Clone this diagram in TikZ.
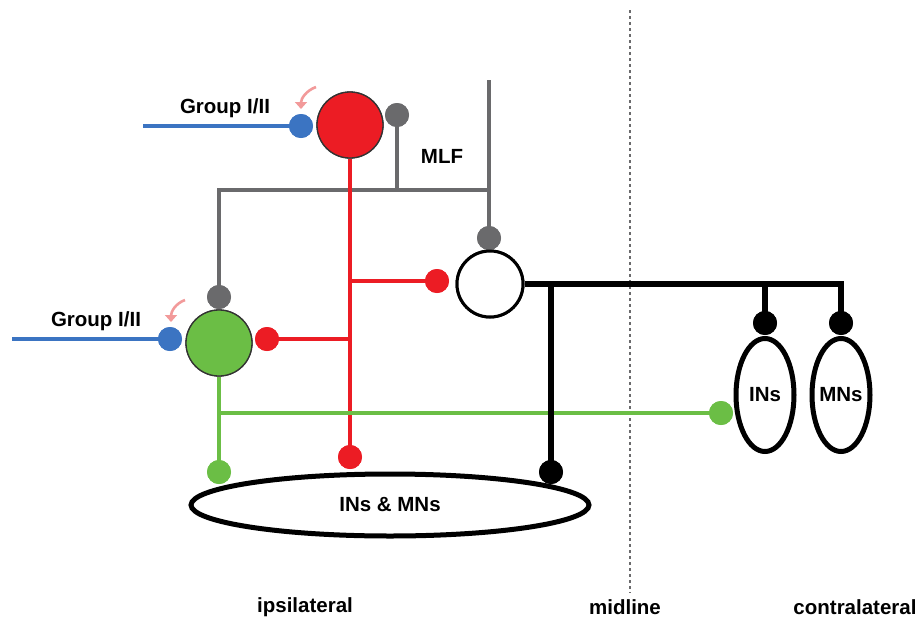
\documentclass[tikz,border=0pt]{standalone}
\usepackage{fontspec}
\setmainfont{Liberation Sans}
\usetikzlibrary{shapes.geometric,arrows.meta}
\definecolor{cred}{HTML}{EC1C24}
\definecolor{cgreen}{HTML}{6BBE45}
\definecolor{cblue}{HTML}{3B74C2}
\definecolor{cgray}{HTML}{6A6A6C}
\definecolor{cpink}{HTML}{F29A9A}
\definecolor{cdark}{HTML}{333333}
\tikzset{
  lbl/.style={font=\fontsize{20.5}{24}\selectfont\bfseries, inner sep=0pt},
  soma/.style={circle, minimum size=66pt, inner sep=0pt, draw=cdark, line width=1.3pt},
  syn/.style={circle, minimum size=24pt, inner sep=0pt, fill=#1},
  axon/.style={line width=4.8pt, draw=#1},
  blackaxon/.style={line width=5.5pt, draw=black},
  pool/.style={ellipse, draw=black, line width=5pt, inner sep=0pt},
  pinkarr/.style={draw=cpink, line width=2.6pt, -{Triangle[length=7pt,width=12pt]}},
}
\begin{document}
\begin{tikzpicture}[x=1pt,y=-1pt]
\useasboundingbox (0,0) rectangle (922,619);
% midline
\draw[cgray, line width=2pt, dash pattern=on 2.5pt off 3.5pt] (630,10) -- (630,593);

% somata
\node[soma, fill=cred] (red) at (350,125) {};
\node[soma, fill=cgreen] (green) at (219,343) {};
\node[soma, fill=white, draw=black, line width=3pt] (white) at (490,284) {};

% pools
\node[pool, minimum width=398pt, minimum height=62pt] (ellE) at (390,505) {};
\node[pool, minimum width=58pt, minimum height=113pt] (ellI) at (765,395) {};
\node[pool, minimum width=58pt, minimum height=113pt] (ellM) at (841,395) {};

% synapses
\node[syn=cblue] (bdotT) at (301,126) {};
\node[syn=cblue] (bdotL) at (170,339) {};
\node[syn=cgray] (gdotR) at (397,115) {};
\node[syn=cgray] (gdotW) at (489,238) {};
\node[syn=cgray] (gdotG) at (219,297) {};
\node[syn=cred] (rdotW) at (437,281) {};
\node[syn=cred] (rdotG) at (267,339) {};
\node[syn=cred] (rdotE) at (350,457) {};
\node[syn=cgreen] (gndotE) at (219,472) {};
\node[syn=cgreen] (gndotC) at (721,413) {};
\node[syn=black] (kdotE) at (551,472) {};
\node[syn=black] (kdotI) at (765,323) {};
\node[syn=black] (kdotM) at (841,323) {};

% free ends / junctions
\coordinate (bT0) at (143,126);
\coordinate (bL0) at (12,339);
\coordinate (gtop) at (489,80);
\coordinate (gj) at (489,190);
\coordinate (gnj) at (219,413);
\coordinate (kj) at (841,284);

% blue afferents
\draw[axon=cblue] (bT0) -- (bdotT.center);
\draw[axon=cblue] (bL0) -- (bdotL.center);

% gray MLF
\draw[axon=cgray] (gtop) -- (gdotW.center);
\draw[axon=cgray] (gdotG.center) |- (gj);
\draw[axon=cgray] (gdotR.center) -- (gdotR |- gj);

% red axon
\draw[axon=cred] (red) -- (rdotE.center);
\draw[axon=cred] (rdotG.center) -- (rdotG -| red);
\draw[axon=cred] (rdotW.center) -- (rdotW -| red);

% green axon
\draw[axon=cgreen] (green) -- (gndotE.center);
\draw[axon=cgreen] (gnj) -- (gndotC.center);

% black axon
\draw[blackaxon] (white) -- (kj) -- (kdotM.center);
\draw[blackaxon] (kdotI.center) -- (kdotI |- kj);
\draw[blackaxon] (kdotE.center) -- (kdotE |- kj);

% redraw synapses on top
\foreach \n/\c in {bdotT/cblue,bdotL/cblue,gdotR/cgray,gdotW/cgray,gdotG/cgray,rdotW/cred,rdotG/cred,rdotE/cred,gndotE/cgreen,gndotC/cgreen,kdotE/black,kdotI/black,kdotM/black}
  \fill[\c] (\n) circle (12pt);
\node[soma, fill=cred] at (red) {};
\node[soma, fill=cgreen] at (green) {};
\node[soma, fill=white, draw=black, line width=3pt] at (white) {};

% pink arrows
\coordinate (pT1) at (316,87);
\coordinate (pT2) at (301,109);
\coordinate (pL1) at (185,300);
\coordinate (pL2) at (171,322);
\draw[pinkarr] (pT1) to[out=200,in=90] (pT2);
\draw[pinkarr] (pL1) to[out=200,in=90] (pL2);

% labels
\node[lbl] (gT) at (225,108) {Group I/II};
\node[lbl] (gL) at (96,321) {Group I/II};
\node[lbl] (mlf) at (442,156) {MLF};
\node[lbl] at (ellE) {INs \& MNs};
\node[lbl] at (ellI) {INs};
\node[lbl] at (ellM) {MNs};
\node[lbl] (ipsi) at (305,607) {ipsilateral};
\node[lbl] (mid) at (625,607) {midline};
\node[lbl] (contra) at (855,607) {contralateral};
\end{tikzpicture}
\end{document}
